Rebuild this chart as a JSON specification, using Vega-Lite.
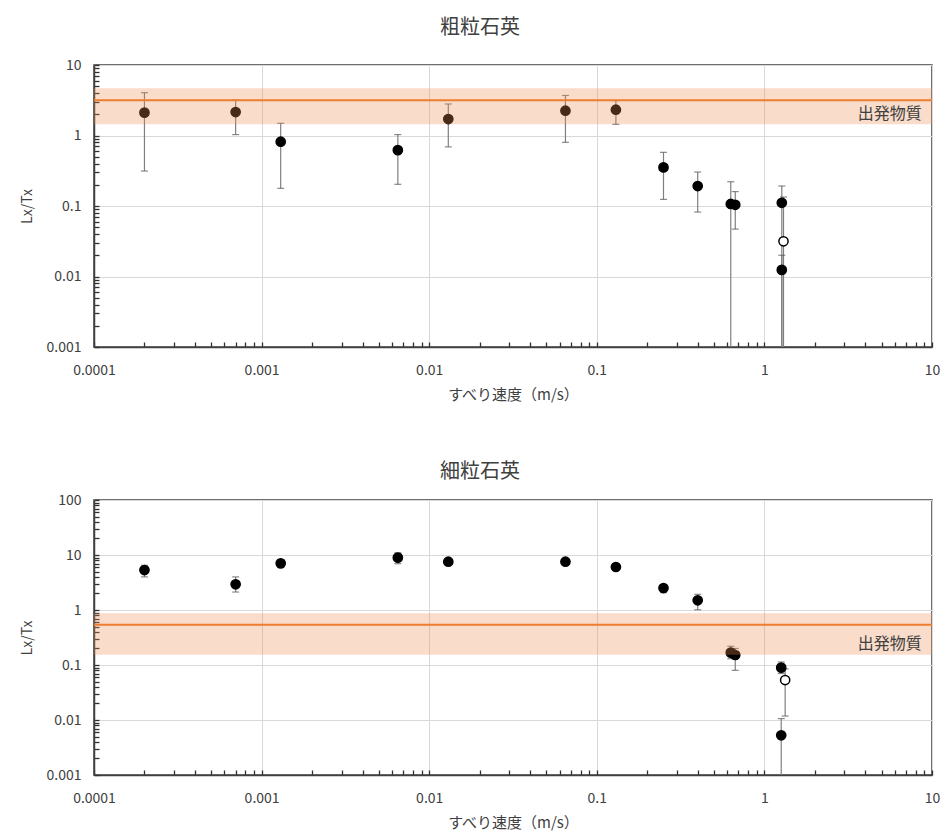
{
  "$schema": "https://vega.github.io/schema/vega-lite/v6.json",
  "background": "white",
  "padding": {"left": 19, "top": 17, "right": 5, "bottom": 0},
  "spacing": 58,
  "config": {
    "font": "Noto Sans CJK JP",
    "view": {"stroke": "#404040", "strokeWidth": 1.5},
    "title": {"fontSize": 20, "fontWeight": "normal", "color": "#404040", "frame": "bounds", "anchor": "middle"},
    "axis": {
      "labelFontSize": 14, "labelColor": "#404040",
      "titleFontSize": 15, "titleFontWeight": "normal", "titleColor": "#404040",
      "domainColor": "#404040", "domainWidth": 1.5,
      "tickColor": "#303030", "tickSize": -5, "tickWidth": 1.3,
      "gridColor": "#d9d9d9", "gridWidth": 1,
      "labelOverlap": false, "labelFlush": false, "labelBound": false
    }
  },
  "vconcat": [
    {
      "title": {"text": "粗粒石英", "offset": 20},
      "width": 838,
      "height": 282,
      "data": {"values": [
        {"v": 0.0002, "lx": 2.11, "hi": 4.05, "lo": 0.313, "type": "filled"},
        {"v": 0.0007, "lx": 2.15, "hi": 3.19, "lo": 1.03, "type": "filled"},
        {"v": 0.0013, "lx": 0.817, "hi": 1.49, "lo": 0.178, "type": "filled"},
        {"v": 0.0065, "lx": 0.62, "hi": 1.03, "lo": 0.203, "type": "filled"},
        {"v": 0.013, "lx": 1.71, "hi": 2.8, "lo": 0.69, "type": "filled"},
        {"v": 0.065, "lx": 2.25, "hi": 3.7, "lo": 0.8, "type": "filled"},
        {"v": 0.13, "lx": 2.32, "hi": 3.12, "lo": 1.44, "type": "filled"},
        {"v": 0.25, "lx": 0.353, "hi": 0.577, "lo": 0.124, "type": "filled"},
        {"v": 0.4, "lx": 0.192, "hi": 0.303, "lo": 0.082, "type": "filled"},
        {"v": 0.63, "lx": 0.107, "hi": 0.221, "lo": 0.0001, "type": "filled"},
        {"v": 0.67, "lx": 0.104, "hi": 0.16, "lo": 0.047, "type": "filled"},
        {"v": 1.27, "lx": 0.111, "hi": 0.192, "lo": 0.0001, "type": "filled"},
        {"v": 1.27, "lx": 0.0124, "hi": 0.02, "lo": 0.0001, "type": "filled"},
        {"v": 1.3, "lx": 0.0316, "hi": 0.134, "lo": 0.0001, "type": "open"}
      ]},
      "encoding": {
        "x": {
          "field": "v", "type": "quantitative",
          "scale": {"type": "log", "domain": [0.0001, 10]},
          "axis": {
            "title": "すべり速度（m/s）",
            "values": [0.0001,0.0002,0.0003,0.0004,0.0005,0.0006,0.0007,0.0008,0.0009,0.001,0.002,0.003,0.004,0.005,0.006,0.007,0.008,0.009,0.01,0.02,0.03,0.04,0.05,0.06,0.07,0.08,0.09,0.1,0.2,0.3,0.4,0.5,0.6,0.7,0.8,0.9,1,2,3,4,5,6,7,8,9,10],
            "labelExpr": "abs(log(datum.value)/LN10 - round(log(datum.value)/LN10)) < 0.001 ? format(datum.value, '~g') : ''",
            "grid": true,
            "gridOpacity": {"condition": {"test": "abs(log(datum.value)/LN10 - round(log(datum.value)/LN10)) < 0.001", "value": 1}, "value": 0},
            "labelPadding": 21,
            "titlePadding": 10
          }
        },
        "y": {
          "field": "lx", "type": "quantitative",
          "scale": {"type": "log", "domain": [0.001, 10]},
          "axis": {
            "title": "Lx/Tx",
            "titleFontSize": 14,
            "values": [0.001,0.002,0.003,0.004,0.005,0.006,0.007,0.008,0.009,0.01,0.02,0.03,0.04,0.05,0.06,0.07,0.08,0.09,0.1,0.2,0.3,0.4,0.5,0.6,0.7,0.8,0.9,1,2,3,4,5,6,7,8,9,10],
            "labelExpr": "abs(log(datum.value)/LN10 - round(log(datum.value)/LN10)) < 0.001 ? format(datum.value, '~g') : ''",
            "grid": true,
            "gridOpacity": {"condition": {"test": "abs(log(datum.value)/LN10 - round(log(datum.value)/LN10)) < 0.001", "value": 1}, "value": 0},
            "labelPadding": 18,
            "titlePadding": 12
          }
        }
      },
      "layer": [
        {
          "mark": {"type": "rule", "color": "#7f7f7f", "strokeWidth": 1.2, "clip": true},
          "encoding": {
            "y": {"field": "lo", "type": "quantitative", "scale": {"type": "log", "domain": [0.001, 10]}},
            "y2": {"field": "hi"}
          }
        },
        {
          "mark": {"type": "tick", "orient": "horizontal", "color": "#595959", "size": 7, "thickness": 1.2, "clip": true},
          "encoding": {"y": {"field": "hi", "type": "quantitative", "scale": {"type": "log", "domain": [0.001, 10]}}}
        },
        {
          "mark": {"type": "tick", "orient": "horizontal", "color": "#595959", "size": 7, "thickness": 1.2, "clip": true},
          "encoding": {"y": {"field": "lo", "type": "quantitative", "scale": {"type": "log", "domain": [0.001, 10]}}}
        },
        {
          "mark": {"type": "point", "filled": false, "stroke": "black", "strokeWidth": 1.5, "size": 85, "opacity": 1},
          "encoding": {
            "fill": {"field": "type", "type": "nominal", "scale": {"domain": ["filled", "open"], "range": ["black", "white"]}, "legend": null}
          }
        },
        {
          "data": {"values": [{"lo": 1.44, "hi": 4.67}]},
          "mark": {"type": "rect", "color": "#ED8C50", "opacity": 0.3},
          "encoding": {
            "x": null,
            "y": {"field": "lo", "type": "quantitative", "scale": {"type": "log", "domain": [0.001, 10]}},
            "y2": {"field": "hi"}
          }
        },
        {
          "data": {"values": [{"lx": 3.16}]},
          "mark": {"type": "rule", "color": "#ED7D31", "strokeWidth": 2},
          "encoding": {"x": null}
        },
        {
          "data": {"values": [{"v": 8.7, "lx": 2.02, "label": "出発物質"}]},
          "mark": {"type": "text", "align": "right", "baseline": "middle", "fontSize": 16, "color": "#404040"},
          "encoding": {"text": {"field": "label"}}
        }
      ]
    },
    {
      "title": {"text": "細粒石英", "offset": 11},
      "width": 838,
      "height": 275,
      "data": {"values": [
        {"v": 0.0002, "lx": 5.33, "hi": 6.5, "lo": 4.0, "type": "filled"},
        {"v": 0.0007, "lx": 2.93, "hi": 4.0, "lo": 2.12, "type": "filled"},
        {"v": 0.0013, "lx": 7.05, "hi": 8.2, "lo": 6.05, "type": "filled"},
        {"v": 0.0065, "lx": 8.95, "hi": 11.0, "lo": 6.95, "type": "filled"},
        {"v": 0.013, "lx": 7.56, "hi": 8.2, "lo": 7.0, "type": "filled"},
        {"v": 0.065, "lx": 7.56, "hi": 8.1, "lo": 7.0, "type": "filled"},
        {"v": 0.13, "lx": 6.05, "hi": 6.5, "lo": 5.6, "type": "filled"},
        {"v": 0.25, "lx": 2.51, "hi": 2.85, "lo": 2.07, "type": "filled"},
        {"v": 0.4, "lx": 1.5, "hi": 1.93, "lo": 1.01, "type": "filled"},
        {"v": 0.63, "lx": 0.168, "hi": 0.219, "lo": 0.13, "type": "filled"},
        {"v": 0.67, "lx": 0.152, "hi": 0.2, "lo": 0.08, "type": "filled"},
        {"v": 1.26, "lx": 0.0895, "hi": 0.1135, "lo": 0.07, "type": "filled"},
        {"v": 1.26, "lx": 0.00527, "hi": 0.0106, "lo": 0.0001, "type": "filled"},
        {"v": 1.33, "lx": 0.0533, "hi": 0.085, "lo": 0.0118, "type": "open"}
      ]},
      "encoding": {
        "x": {
          "field": "v", "type": "quantitative",
          "scale": {"type": "log", "domain": [0.0001, 10]},
          "axis": {
            "title": "すべり速度（m/s）",
            "values": [0.0001,0.0002,0.0003,0.0004,0.0005,0.0006,0.0007,0.0008,0.0009,0.001,0.002,0.003,0.004,0.005,0.006,0.007,0.008,0.009,0.01,0.02,0.03,0.04,0.05,0.06,0.07,0.08,0.09,0.1,0.2,0.3,0.4,0.5,0.6,0.7,0.8,0.9,1,2,3,4,5,6,7,8,9,10],
            "labelExpr": "abs(log(datum.value)/LN10 - round(log(datum.value)/LN10)) < 0.001 ? format(datum.value, '~g') : ''",
            "grid": true,
            "gridOpacity": {"condition": {"test": "abs(log(datum.value)/LN10 - round(log(datum.value)/LN10)) < 0.001", "value": 1}, "value": 0},
            "labelPadding": 21,
            "titlePadding": 10
          }
        },
        "y": {
          "field": "lx", "type": "quantitative",
          "scale": {"type": "log", "domain": [0.001, 100]},
          "axis": {
            "title": "Lx/Tx",
            "titleFontSize": 14,
            "values": [0.001,0.002,0.003,0.004,0.005,0.006,0.007,0.008,0.009,0.01,0.02,0.03,0.04,0.05,0.06,0.07,0.08,0.09,0.1,0.2,0.3,0.4,0.5,0.6,0.7,0.8,0.9,1,2,3,4,5,6,7,8,9,10,20,30,40,50,60,70,80,90,100],
            "labelExpr": "abs(log(datum.value)/LN10 - round(log(datum.value)/LN10)) < 0.001 ? format(datum.value, '~g') : ''",
            "grid": true,
            "gridOpacity": {"condition": {"test": "abs(log(datum.value)/LN10 - round(log(datum.value)/LN10)) < 0.001", "value": 1}, "value": 0},
            "labelPadding": 18,
            "titlePadding": 12
          }
        }
      },
      "layer": [
        {
          "mark": {"type": "rule", "color": "#7f7f7f", "strokeWidth": 1.2, "clip": true},
          "encoding": {
            "y": {"field": "lo", "type": "quantitative", "scale": {"type": "log", "domain": [0.001, 100]}},
            "y2": {"field": "hi"}
          }
        },
        {
          "mark": {"type": "tick", "orient": "horizontal", "color": "#595959", "size": 7, "thickness": 1.2, "clip": true},
          "encoding": {"y": {"field": "hi", "type": "quantitative", "scale": {"type": "log", "domain": [0.001, 100]}}}
        },
        {
          "mark": {"type": "tick", "orient": "horizontal", "color": "#595959", "size": 7, "thickness": 1.2, "clip": true},
          "encoding": {"y": {"field": "lo", "type": "quantitative", "scale": {"type": "log", "domain": [0.001, 100]}}}
        },
        {
          "mark": {"type": "point", "filled": false, "stroke": "black", "strokeWidth": 1.5, "size": 85, "opacity": 1},
          "encoding": {
            "fill": {"field": "type", "type": "nominal", "scale": {"domain": ["filled", "open"], "range": ["black", "white"]}, "legend": null}
          }
        },
        {
          "data": {"values": [{"lo": 0.154, "hi": 0.87}]},
          "mark": {"type": "rect", "color": "#ED8C50", "opacity": 0.3},
          "encoding": {
            "x": null,
            "y": {"field": "lo", "type": "quantitative", "scale": {"type": "log", "domain": [0.001, 100]}},
            "y2": {"field": "hi"}
          }
        },
        {
          "data": {"values": [{"lx": 0.54}]},
          "mark": {"type": "rule", "color": "#ED7D31", "strokeWidth": 2},
          "encoding": {"x": null}
        },
        {
          "data": {"values": [{"v": 8.7, "lx": 0.238, "label": "出発物質"}]},
          "mark": {"type": "text", "align": "right", "baseline": "middle", "fontSize": 16, "color": "#404040"},
          "encoding": {"text": {"field": "label"}}
        }
      ]
    }
  ]
}
